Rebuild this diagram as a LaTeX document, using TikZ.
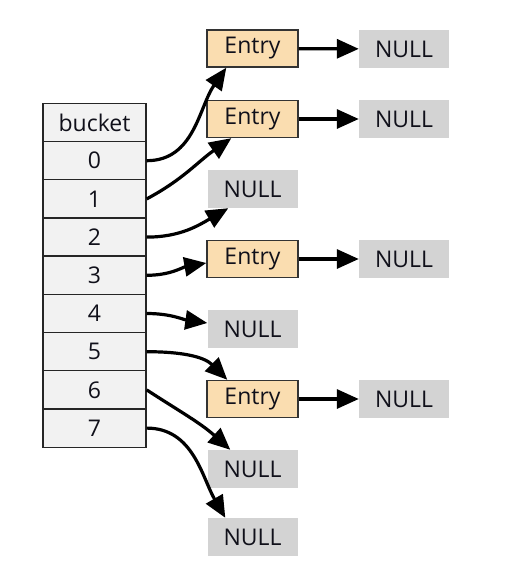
\documentclass[tikz,border=0pt]{standalone}
\usepackage{fontspec}
\setmainfont{Open Sans}
\usetikzlibrary{arrows.meta,calc}
\definecolor{entryfill}{HTML}{FADDB0}
\definecolor{nullfill}{HTML}{D3D3D3}
\definecolor{cellfill}{HTML}{F2F2F2}
\definecolor{txt}{HTML}{10101A}
\begin{document}
\begin{tikzpicture}[x=1pt,y=1pt,
  every node/.style={font=\fontsize{23}{27}\selectfont, text=txt, inner sep=0pt},
  cell/.style={draw=black!85, line width=1.4pt, fill=cellfill, minimum width=103pt, minimum height=38.3pt},
  entrybox/.style={draw=black!80, line width=1.4pt, fill=entryfill, minimum width=91pt, minimum height=37pt},
  nullbox/.style={fill=nullfill, minimum width=90pt, minimum height=38pt},
  link/.style={line width=3.2pt, -{Triangle[length=22pt,width=19pt]}}]
\useasboundingbox (0,0) rectangle (532,-573);
% bucket column
\node[cell] (bk) at (94.5,-122.5) {bucket};
\foreach \i in {0,...,7}{
  \node[cell] (b\i) at (94.5,{-122.5-38.2*(\i+1)}) {\i};
}
% entries
\node[entrybox] (e1) at (252.5,-48.5) {Entry};
\node[entrybox] (e2) at (252.5,-119) {Entry};
\node[nullbox] (n2) at (252.5,-189) {NULL};
\node[entrybox] (e3) at (252.5,-259) {Entry};
\node[nullbox] (n4) at (252.5,-329) {NULL};
\node[entrybox] (e4) at (252.5,-399) {Entry};
\node[nullbox] (n6) at (252.5,-469) {NULL};
\node[nullbox] (n7) at (252.5,-537) {NULL};
% right nulls
\node[nullbox] (r1) at (404,-49) {NULL};
\node[nullbox] (r2) at (404,-119) {NULL};
\node[nullbox] (r3) at (404,-259) {NULL};
\node[nullbox] (r4) at (404,-399) {NULL};
% entry -> null
\draw[link] (e1) -- (r1);
\draw[link] (e2) -- (r2);
\draw[link] (e3) -- (r3);
\draw[link] (e4) -- (r4);
% bucket -> targets
\draw[link] (b0.east) to[out=0,in=235] ([xshift=20pt]e1.south west);
\draw[link] (b1.east) to[out=28,in=215] ([xshift=25pt]e2.south west);
\draw[link] (b2.east) to[out=0,in=210] ([xshift=21pt]n2.south west);
\draw[link] (b3.east) to[out=0,in=190] ([yshift=-4pt]e3.west);
\draw[link] (b4.east) to[out=0,in=172] ([yshift=6pt]n4.west);
\draw[link] (b5.east) to[out=0,in=135] ([xshift=21pt]e4.north west);
\draw[link] (b6.east) to[out=-33,in=138] ([xshift=23pt]n6.north west);
\draw[link] (b7.east) to[out=0,in=120] ([xshift=18pt]n7.north west);
\end{tikzpicture}
\end{document}
